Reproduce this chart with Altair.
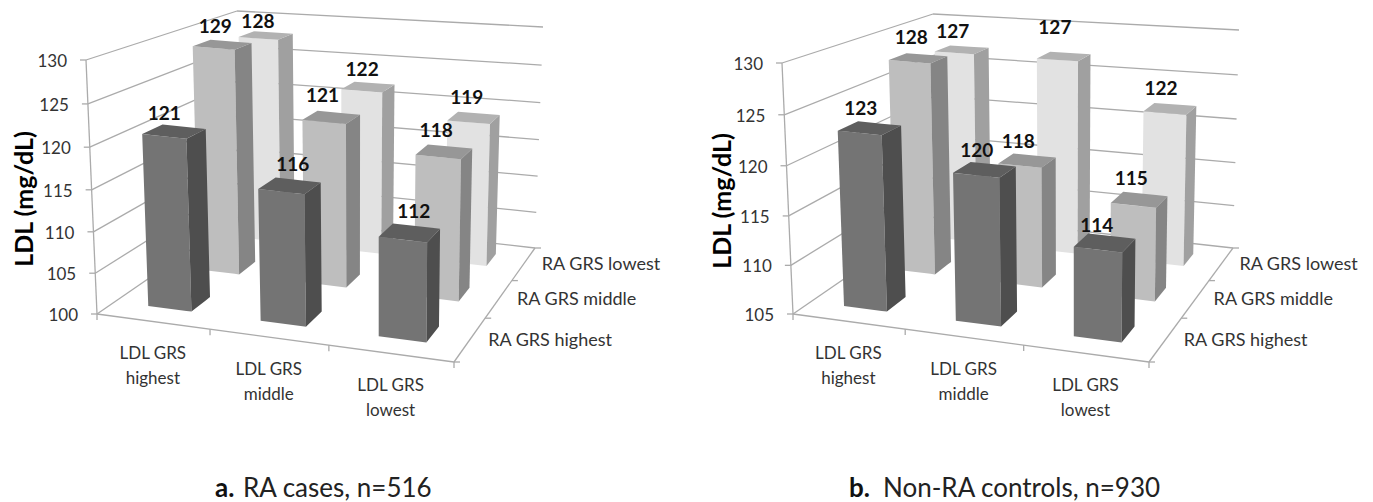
import altair as alt
import numpy as np
import pandas as pd

# ---------- values ----------
columns = ["LDL GRS highest", "LDL GRS middle", "LDL GRS lowest"]
rows = ["RA GRS highest", "RA GRS middle", "RA GRS lowest"]
a_highest = [121, 116, 112]
a_middle = [129, 121, 118]
a_lowest = [128, 122, 119]
b_highest = [123, 120, 114]
b_middle = [128, 118, 115]
b_lowest = [127, 127, 122]
a_ticks = [100, 105, 110, 115, 120, 125, 130]
b_ticks = [105, 110, 115, 120, 125, 130]
captions = ["RA cases, n=516", "Non-RA controls, n=930"]

# ---------- layout / projection ----------
W, H = 1357, 486
FONT = "Lato"
BAR_HALF_U, BAR_HALF_V = 0.065, 0.062
COLORS = [("#747474", "#4e4e4e", "#5e5e5e"),
          ("#bebebe", "#858585", "#979797"),
          ("#e2e2e2", "#a0a0a0", "#b2b2b2")]
GRID = "#ababab"
# label offsets from the bar-top centre, by row then column
NUDGE_A = [[(-5, 0), (8, -3), (9, -3)], [(-2, 0), (-4, -3), (-3, -3)], [(-3, 5), (-1, 1), (-2, -2)]]
NUDGE_B = [[(-4, -1), (-3, -1), (-3, 1)], [(-2, -2), (-4, 0), (-3, -3)], [(-4, 0), (-4, -10), (-4, -2)]]


def camera(pts):
    A = []
    for (X, Y, Z), (x, y) in pts:
        x, y = x / 500, y / 500
        A.append([X, Y, Z, 1, 0, 0, 0, 0, -x * X, -x * Y, -x * Z, -x])
        A.append([0, 0, 0, 0, X, Y, Z, 1, -y * X, -y * Y, -y * Z, -y])
    return np.linalg.svd(np.array(A))[2][-1].reshape(3, 4)


def make_proj(pts):
    M = camera(pts)

    def raw(u, v, w):
        p = M @ np.array([u, v, w, 1.0])
        return np.array([p[0] / p[2] * 500, p[1] / p[2] * 500])
    resid = [(np.array(c, float), np.array(xy, float) - raw(*c)) for c, xy in pts]

    def proj(u, v, w):
        out = raw(u, v, w)
        for (cu, cv, cw), d in resid:
            out = out + d * (u if cu else 1 - u) * (v if cv else 1 - v) * (w if cw else 1 - w)
        return float(out[0]), float(out[1])
    return proj


cube_a = [((0, 0, 0), (97, 314)), ((1, 0, 0), (454, 362)), ((1, 1, 0), (535, 248)), ((0, 1, 0), (241, 215)),
          ((0, 0, 1), (86, 60)), ((1, 0, 1), (457, 98)), ((1, 1, 1), (543, 27)), ((0, 1, 1), (237, 11))]
cube_b = [((0, 0, 0), (793, 314)), ((1, 0, 0), (1149, 362)), ((1, 1, 0), (1233, 248)), ((0, 1, 0), (937, 215)),
          ((0, 0, 1), (782, 63)), ((1, 0, 1), (1152, 98)), ((1, 1, 1), (1239, 30)), ((0, 1, 1), (933, 14))]

panels = [
    dict(proj=make_proj(cube_a), vals=[a_highest, a_middle, a_lowest], ticks=a_ticks, nudge=NUDGE_A,
         title_x=25, title_y=199, letter="a.", letter_x=215, cap_x=243, cap=captions[0]),
    dict(proj=make_proj(cube_b), vals=[b_highest, b_middle, b_lowest], ticks=b_ticks, nudge=NUDGE_B,
         title_x=723, title_y=201, letter="b.", letter_x=849, cap_x=883, cap=captions[1]),
]


def envelope(pts, pid, fill):
    xs = sorted({round(p[0], 2) for p in pts})
    out = []
    n = len(pts)
    for x in xs:
        ys = []
        for i in range(n):
            (x0, y0), (x1, y1) = pts[i], pts[(i + 1) % n]
            lo, hi = min(x0, x1), max(x0, x1)
            if lo - 0.01 <= x <= hi + 0.01:
                if abs(x1 - x0) < 1e-6:
                    ys += [y0, y1]
                else:
                    t = min(1, max(0, (x - x0) / (x1 - x0)))
                    ys.append(y0 + t * (y1 - y0))
        out.append(dict(x=x, y=min(ys), y2=max(ys), pid=pid, fill=fill))
    return out


faces, lines, values_t, small_t, dep_t, titles, cap_reg, cap_bold = [], [], [], [], [], [], [], []
pid = 0
lid = 0


def seg(p, q):
    global lid
    lid += 1
    lines.append(dict(x=p[0], y=p[1], lid=lid))
    lines.append(dict(x=q[0], y=q[1], lid=lid))


for pn in panels:
    P, ticks = pn["proj"], pn["ticks"]
    lo, hi = ticks[0], ticks[-1]
    Wv = lambda val: (val - lo) / (hi - lo)
    # walls
    for t in ticks:
        w = Wv(t)
        a, b, c = P(0, 0, w), P(0, 1, w), P(1, 1, w)
        seg(a, b)
        seg(b, c)
        seg((a[0] - 6, a[1]), a)
        small_t.append(dict(x=a[0] - 19, y=a[1] + 2, t=str(t)))
    # axis frame
    seg(P(0, 0, 0), P(0, 0, 1))
    seg(P(0, 0, 0), P(1, 0, 0))
    seg(P(1, 0, 0), P(1, 1, 0))
    for i in range(4):
        p = P(i / 3, 0, 0)
        seg(p, (p[0], p[1] + 6))
        q = P(1, i / 3, 0)
        seg(q, (q[0] + 6, q[1]))
    # bars, back row first
    for r in (2, 1, 0):
        for c in range(3):
            val = pn["vals"][r][c]
            w = Wv(val)
            u0, u1 = (c + .5) / 3 - BAR_HALF_U, (c + .5) / 3 + BAR_HALF_U
            v0, v1 = (r + .5) / 3 - BAR_HALF_V, (r + .5) / 3 + BAR_HALF_V
            fr, sd, tp = COLORS[r]
            for quad, col in (
                ([P(u0, v0, 0), P(u1, v0, 0), P(u1, v0, w), P(u0, v0, w)], fr),
                ([P(u1, v0, 0), P(u1, v1, 0), P(u1, v1, w), P(u1, v0, w)], sd),
                ([P(u0, v0, w), P(u1, v0, w), P(u1, v1, w), P(u0, v1, w)], tp),
            ):
                pid += 1
                faces.extend(envelope(quad, pid, col))
            top = P((u0 + u1) / 2, (v0 + v1) / 2, w)
            nx, ny = pn["nudge"][r][c]
            values_t.append(dict(x=top[0] - 5 + nx, y=top[1] - 18 + ny, t=str(val)))
    # category labels
    for c, name in enumerate(columns):
        p = P((c + .5) / 3, 0, 0)
        first, second = name.rsplit(" ", 1)
        small_t.append(dict(x=p[0], y=p[1] + 33, t=first, a="center"))
        small_t.append(dict(x=p[0], y=p[1] + 58, t=second, a="center"))
    # depth labels
    for r, name in enumerate(rows):
        p = P(1, (r + .5) / 3, 0)
        dep_t.append(dict(x=p[0] + 18, y=p[1] + 1.5, t=name))
    titles.append(dict(x=pn["title_x"], y=pn["title_y"], t="LDL (mg/dL)"))
    cap_bold.append(dict(x=pn["letter_x"], y=488.5, t=pn["letter"]))
    cap_reg.append(dict(x=pn["cap_x"], y=488.5, t=pn["cap"]))

X = alt.X("x:Q", scale=alt.Scale(domain=[8, 8 + W], nice=False, zero=False), axis=None)
Y = alt.Y("y:Q", scale=alt.Scale(domain=[8 + H, 8], nice=False, zero=False), axis=None)


def text_layer(rows_, **kw):
    return alt.Chart(pd.DataFrame(rows_)).mark_text(font=FONT, **kw).encode(x=X, y=Y, text="t:N")


grid = alt.Chart(pd.DataFrame(lines)).mark_line(color=GRID, strokeWidth=1.3).encode(x=X, y=Y, detail="lid:N")
bars = alt.Chart(pd.DataFrame(faces)).mark_area(interpolate="linear").encode(
    x=X, y=Y, y2="y2:Q", detail="pid:N", color=alt.Color("fill:N", scale=None))

small_right = [r for r in small_t if "a" not in r]
small_center = [r for r in small_t if "a" in r]

chart = alt.layer(
    grid, bars,
    text_layer(values_t, fontSize=19, fontWeight="bold", color="#111111"),
    text_layer(small_right, fontSize=17, align="right", color="#333333"),
    text_layer(small_center, fontSize=17, align="center", color="#333333"),
    text_layer(dep_t, fontSize=18, align="left", color="#333333"),
    text_layer(titles, fontSize=25, fontWeight="bold", angle=270, align="center", color="#000000"),
    text_layer(cap_bold, fontSize=26, fontWeight="bold", align="left", color="#111111"),
    text_layer(cap_reg, fontSize=26, align="left", color="#222222"),
).properties(width=W, height=H, padding=0).configure_view(stroke=None)

chart.save("out.html", embed_options={"renderer": "svg", "actions": False})
